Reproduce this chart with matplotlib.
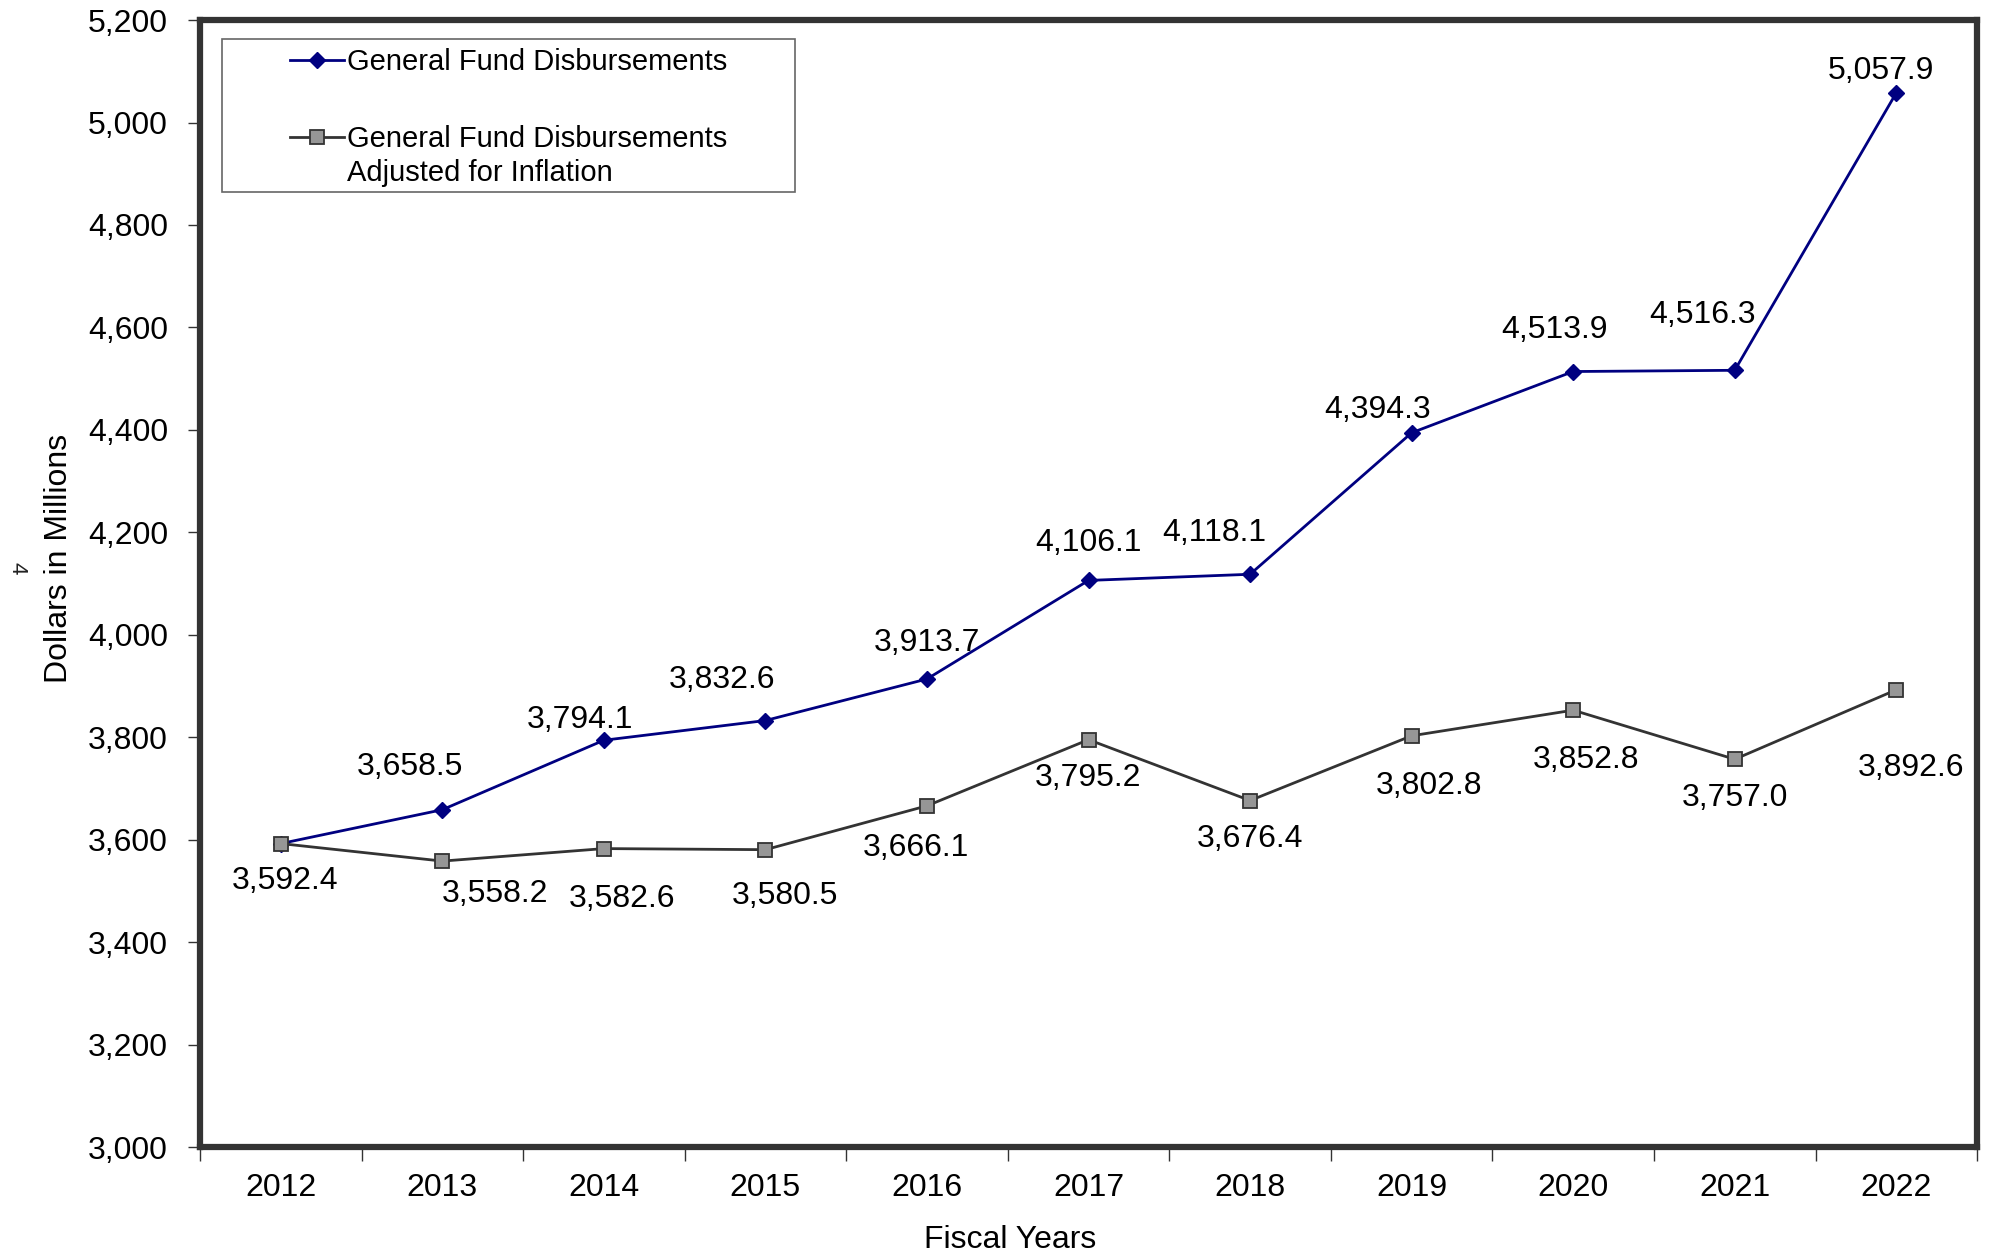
import matplotlib.pyplot as plt
from matplotlib.patches import Rectangle
import numpy as np

plt.rcParams['font.family'] = ['Liberation Sans', 'DejaVu Sans']

# data
years = ['2012', '2013', '2014', '2015', '2016', '2017', '2018', '2019', '2020', '2021', '2022']
disbursements = [3592.4, 3658.5, 3794.1, 3832.6, 3913.7, 4106.1, 4118.1, 4394.3, 4513.9, 4516.3, 5057.9]
adjusted = [3592.4, 3558.2, 3582.6, 3580.5, 3666.1, 3795.2, 3676.4, 3802.8, 3852.8, 3757.0, 3892.6]

# label offsets in pixels (dx, dy), first label of the nominal line is hidden
nom_off = [None, (-32, 43), (-24, 20), (-43, 41), (0, 36), (0, 37), (-36, 41), (-34, 23), (-19, 42), (-32, 55), (-15, 22)]
adj_off = [(4, -37), (53, -33), (18, -50), (20, -46), (-11, -42), (0, -38), (0, -38), (17, -50), (13, -50), (0, -39), (15, -78)]

fig = plt.figure(figsize=(19.92, 12.54), dpi=100)
ax = fig.add_axes([0.1004, 0.0853, 0.8921, 0.8987])

x = np.arange(len(years))
ax.plot(x, disbursements, color='#000080', lw=2, marker='D', ms=8,
        mfc='#000080', mec='#000080', label='General Fund Disbursements', zorder=3)
ax.plot(x, adjusted, color='#333333', lw=2, marker='s', ms=10,
        mfc='#969696', mec='#333333', mew=1.3,
        label='General Fund Disbursements', zorder=3)

for i, v in enumerate(disbursements):
    if nom_off[i] is None:
        continue
    ax.annotate(f'{v:,.1f}', (x[i], v), xytext=nom_off[i], textcoords='offset pixels',
                ha='center', va='center', fontsize=23)
for i, v in enumerate(adjusted):
    ax.annotate(f'{v:,.1f}', (x[i], v), xytext=adj_off[i], textcoords='offset pixels',
                ha='center', va='center', fontsize=23)

ax.set_xlim(-0.5, len(years) - 0.5)
ax.set_ylim(3000, 5200)
ax.set_yticks(np.arange(3000, 5201, 200))
ax.set_yticklabels([f'{t:,}' for t in range(3000, 5201, 200)], fontsize=23)
ax.set_xticks(x)
ax.set_xticklabels(years, fontsize=23)
ax.set_xticks(np.arange(-0.5, len(years)), minor=True)
ax.tick_params(axis='x', which='major', length=0, pad=19)
ax.tick_params(axis='x', which='minor', length=10, width=1, direction='out', color='#333333')
ax.tick_params(axis='y', length=9, width=1, direction='out', color='#333333', pad=14)

for s in ax.spines.values():
    s.set_color('#333333')
    s.set_linewidth(4.5)

ax.set_xlabel('Fiscal Years', fontsize=23)
ax.xaxis.set_label_coords(0.456, -0.0695)
ax.set_ylabel('Dollars in Millions', fontsize=23)
ax.yaxis.set_label_coords(-0.071, 0.522)
fig.text(0.0083, 0.547, '4', rotation=-90, fontsize=16, ha='center', va='center', color='#222222')

# legend box
ax.add_patch(Rectangle((0.0124, 0.847), 0.3226, 0.136, transform=ax.transAxes,
                       facecolor='white', edgecolor='#666666', lw=1.2, zorder=4))
leg = ax.legend(loc='upper left', bbox_to_anchor=(0.0506, 0.975), fontsize=21,
                frameon=False, borderpad=0, labelspacing=1.67,
                handlelength=1.85, handletextpad=0.12, borderaxespad=0)
leg.set_zorder(5)
ax.text(0.0827, 0.864, 'Adjusted for Inflation', transform=ax.transAxes,
        fontsize=21, ha='left', va='center', zorder=6)

fig.savefig('out.png', dpi=100)
